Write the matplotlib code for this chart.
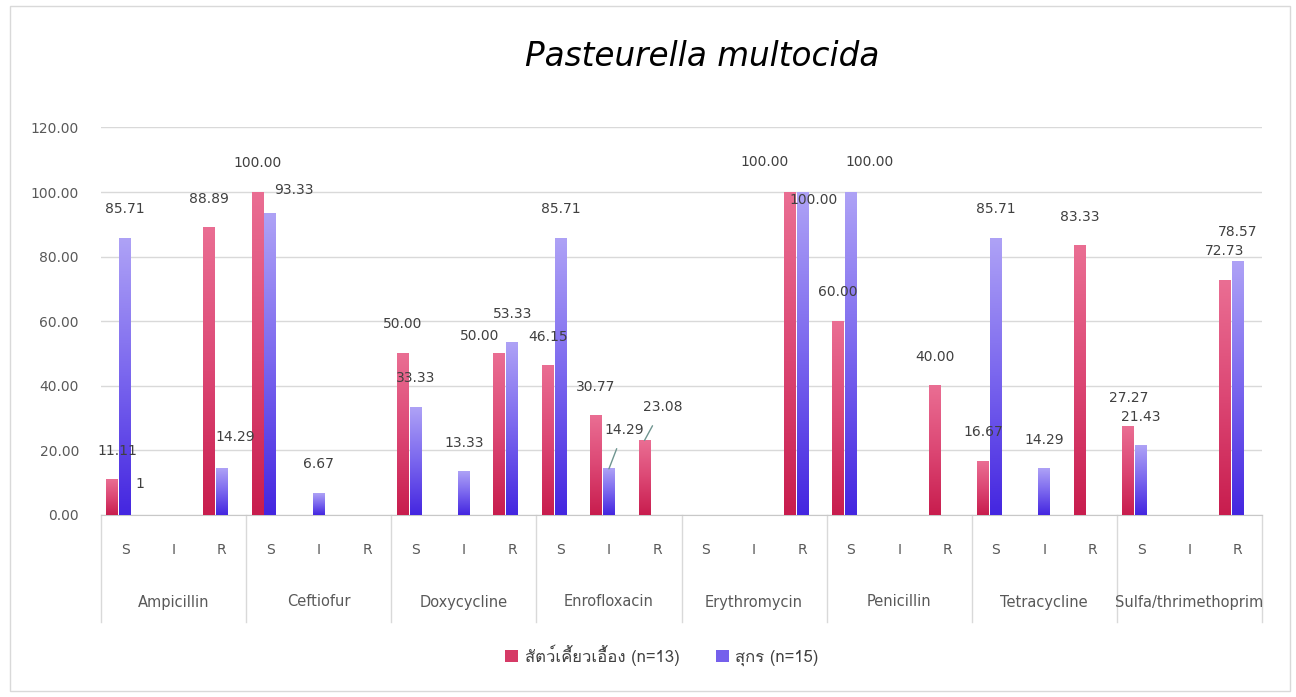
"""
Pasteurella multocida: S / I / R percentages by antibiotic (ruminants vs pigs)
"""
import numpy as np
import matplotlib
matplotlib.use('Agg')
import matplotlib.pyplot as plt
from matplotlib import font_manager, ft2font
from matplotlib.colors import LinearSegmentedColormap
from matplotlib.patches import Rectangle, Patch

# --- data ---
antibiotics = ['Ampicillin', 'Ceftiofur', 'Doxycycline', 'Enrofloxacin',
               'Erythromycin', 'Penicillin', 'Tetracycline', 'Sulfa/thrimethoprim']
sir = ['S', 'I', 'R']
ruminant = [11.11, 0, 88.89,
            100.00, 0, 0,
            50.00, 0, 50.00,
            46.15, 30.77, 23.08,
            0, 0, 100.00,
            60.00, 0, 40.00,
            16.67, 0, 83.33,
            27.27, 0, 72.73]
swine = [85.71, 0, 14.29,
         93.33, 6.67, 0,
         33.33, 13.33, 53.33,
         85.71, 14.29, 0,
         0, 0, 100.00,
         100.00, 0, 0,
         85.71, 14.29, 0,
         21.43, 0, 78.57]
series_names = ['สัตว์เคี้ยวเอื้อง (n=13)', 'สุกร (n=15)']
title = 'Pasteurella multocida'

# ラベル位置の微調整 (px): (series, index) -> (dx, dy above bar top)
LABEL_POS = {
    (0, 0): (5, 28), (0, 8): (-20, 17), (0, 11): (18, 33), (0, 14): (-25, 30),
    (1, 2): (13, 32), (1, 3): (24, 24), (1, 10): (15, 39), (1, 14): (11, -8),
    (1, 15): (19, 30),
}
LEADER = {(0, 11), (1, 10)}


def find_font(ch):
    for f in font_manager.fontManager.ttflist:
        try:
            if ft2font.FT2Font(f.fname).get_char_index(ord(ch)):
                return f.name
        except Exception:
            continue
    return None


thai = find_font('ส')
thai_family = [thai, 'DejaVu Sans'] if thai else ['DejaVu Sans']

plt.rcParams['font.family'] = ['DejaVu Sans']
W, H = 1296, 697
PX = 72 / 100  # px -> pt

fig = plt.figure(figsize=(W / 100, H / 100), dpi=100)
ax = fig.add_axes([101 / W, 1 - 515 / H, (1262 - 101) / W, (515 - 127.4) / H])

reds = LinearSegmentedColormap.from_list('r', ['#c81d4e', '#dc4774', '#ea6e93'])
blues = LinearSegmentedColormap.from_list('b', ['#4426e0', '#7a66ee', '#aea2f6'])

x = np.arange(len(sir) * len(antibiotics))
bw = 0.245
offsets = [-0.265, 0.0]
grad = np.linspace(0, 1, 128).reshape(-1, 1)

for s, (vals, cmap) in enumerate([(ruminant, reds), (swine, blues)]):
    vals = np.array(vals)
    bars = ax.bar(x + offsets[s], vals, bw, color=cmap(0.5), zorder=3, linewidth=0)
    for i, (b, v) in enumerate(zip(bars, vals)):
        if v <= 0:
            b.set_visible(False)
            continue
        x0, w, h = b.get_x(), b.get_width(), b.get_height()
        ax.imshow(grad, extent=(x0, x0 + w, 0, h), origin='lower', cmap=cmap,
                  aspect='auto', zorder=3.5, interpolation='bicubic')
        dx, dy = LABEL_POS.get((s, i), (0, 29))
        if (s, i) in LEADER:
            ax.annotate(f'{v:.2f}', xy=(x0 + w / 2, h), xytext=(dx * PX, dy * PX),
                        textcoords='offset points', ha='center', va='center',
                        fontsize=10, color='#404040', zorder=5,
                        arrowprops=dict(arrowstyle='-', color='#6f9590', lw=1,
                                        shrinkA=7, shrinkB=0))
        else:
            ax.annotate(f'{v:.2f}', xy=(x0 + w / 2, h), xytext=(dx * PX, dy * PX),
                        textcoords='offset points', ha='center', va='center',
                        fontsize=10, color='#404040', zorder=5)

# 謎の "1" ラベル
ax.annotate('1', xy=(0, 0), xytext=(15 * PX, 31 * PX), textcoords='offset points',
            ha='center', va='center', fontsize=10, color='#404040', zorder=5)

ax.set_xlim(-0.5, len(x) - 0.5)
ax.set_ylim(0, 120)
ax.set_yticks(np.arange(0, 121, 20))
ax.set_yticklabels([f'{t:.2f}' for t in np.arange(0, 121, 20)])
ax.tick_params(axis='y', length=0, pad=22 * PX, labelsize=10, labelcolor='#595959')
ax.set_xticks([])
ax.grid(True, axis='y', color='#d9d9d9', linewidth=1, zorder=0)
for sp in ['top', 'left', 'right']:
    ax.spines[sp].set_visible(False)
ax.spines['bottom'].set_color('#c8c8c8')

# 2段のカテゴリ軸
tr = ax.get_xaxis_transform()
for i in x:
    ax.annotate(sir[i % 3], xy=(i, 0), xycoords=tr, xytext=(0, -35 * PX),
                textcoords='offset points', ha='center', va='center',
                fontsize=10, color='#595959')
for g, name in enumerate(antibiotics):
    ax.annotate(name, xy=(3 * g + 1, 0), xycoords=tr, xytext=(0, -87 * PX),
                textcoords='offset points', ha='center', va='center',
                fontsize=10.5, color='#595959')
sep_y = -107 / (515 - 127.4)
for g in range(len(antibiotics) + 1):
    ax.plot([3 * g - 0.5, 3 * g - 0.5], [0, sep_y], transform=tr, color='#d9d9d9',
            linewidth=1, clip_on=False)

fig.text(702 / W, 1 - 56 / H, title, ha='center', va='center', fontsize=23.5,
         style='italic', color='black')

handles = [Patch(facecolor='#d63a66'), Patch(facecolor='#7560ec')]
fig.legend(handles, series_names, loc='center', bbox_to_anchor=(662 / W, 1 - 655 / H),
           ncol=2, frameon=False, handlelength=0.75, handleheight=0.75,
           handletextpad=0.4, columnspacing=2.2,
           prop={'family': thai_family, 'size': 12}, labelcolor='#404040')

fig.patches.append(Rectangle((10 / W, 6 / H), (1290 - 10) / W, (691 - 6) / H,
                             transform=fig.transFigure, fill=False,
                             edgecolor='#d9d9d9', linewidth=1))

fig.savefig('out.png', dpi=100)
